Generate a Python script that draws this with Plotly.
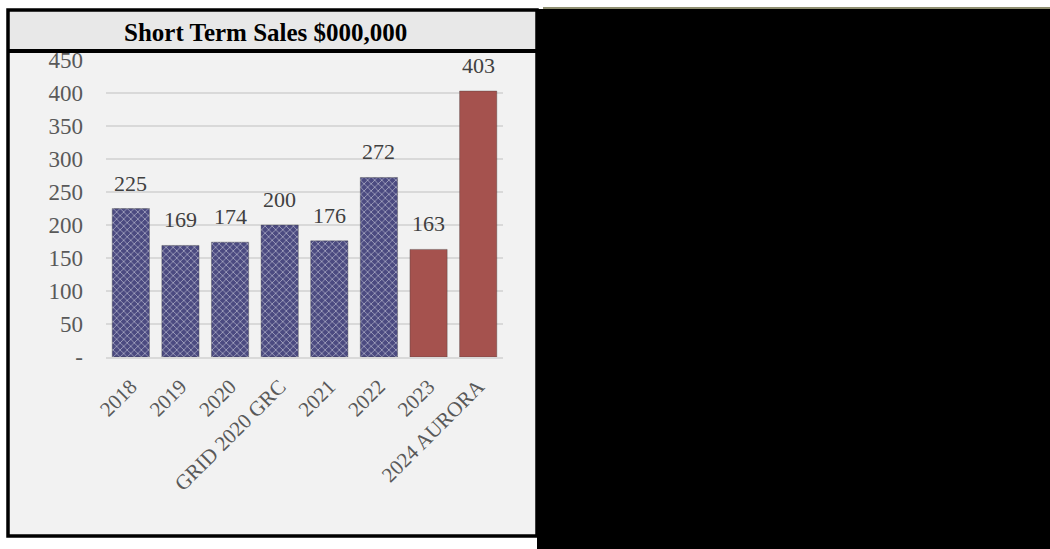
import plotly.graph_objects as go

categories = ["2018", "2019", "2020", "GRID 2020 GRC", "2021", "2022", "2023", "2024 AURORA"]
sales = [225, 169, 174, 200, 176, 272, 163, 403]
bar_colors = ["#4b4a80"] * 6 + ["#a5524e"] * 2
bar_patterns = ["x"] * 6 + [""] * 2
y_tickvals = [0, 50, 100, 150, 200, 250, 300, 350, 400, 450]
y_ticktext = ["-", "50", "100", "150", "200", "250", "300", "350", "400", "450"]
title_text = "Short Term Sales $000,000"

W, H = 1050, 549
def px(x):
    return x / W
def py(y):
    return 1 - y / H

SERIF = "Liberation Serif, Times New Roman, serif"

fig = go.Figure()
fig.add_trace(go.Bar(
    x=categories,
    y=sales,
    marker=dict(
        color=bar_colors,
        line=dict(color="rgba(60,60,60,0.35)", width=1),
        pattern=dict(shape=bar_patterns, fgcolor="#68689e",
                     size=5, solidity=0.3, fillmode="overlay"),
    ),
    hoverinfo="skip",
))

# value labels above bars (x given as category index on the category axis)
for i, v in enumerate(sales):
    fig.add_annotation(
        x=i, y=v, xref="x", yref="y", text=str(v), showarrow=False,
        xanchor="center", yanchor="bottom", yshift=11,
        font=dict(family=SERIF, size=22, color="#404040"),
    )

fig.add_annotation(
    text="<b>" + title_text + "</b>", xref="paper", yref="paper",
    x=px(265), y=py(33), xanchor="center", yanchor="middle", showarrow=False,
    font=dict(family=SERIF, size=25, color="#000000"),
)

shapes = [
    dict(type="rect", xref="paper", yref="paper", x0=px(8), x1=px(537), y0=py(536), y1=py(10),
         fillcolor="#f2f2f2", line=dict(width=0), layer="below"),
    dict(type="rect", xref="paper", yref="paper", x0=px(8), x1=px(537), y0=py(51), y1=py(10),
         fillcolor="#e8e8e8", line=dict(width=0), layer="below"),
    dict(type="line", xref="paper", yref="paper", x0=px(8), x1=px(537), y0=py(51), y1=py(51),
         line=dict(color="black", width=4), layer="above"),
    dict(type="rect", xref="paper", yref="paper", x0=px(8), x1=px(537), y0=py(536), y1=py(10),
         fillcolor="rgba(0,0,0,0)", line=dict(color="black", width=3.5), layer="above"),
    dict(type="rect", xref="paper", yref="paper", x0=px(537), x1=px(1050), y0=py(549), y1=py(9),
         fillcolor="black", line=dict(width=0), layer="above"),
    dict(type="line", xref="paper", yref="paper", x0=px(543), x1=px(1050), y0=py(8), y1=py(8),
         line=dict(color="#8e8e70", width=2), layer="above"),
]

fig.update_layout(
    width=W, height=H, autosize=False,
    margin=dict(l=0, r=0, t=0, b=0),
    paper_bgcolor="white",
    plot_bgcolor="rgba(0,0,0,0)",
    showlegend=False,
    bargap=0.25,
    shapes=shapes,
    font=dict(family=SERIF, color="#595959"),
    xaxis=dict(
        type="category",
        categoryorder="array", categoryarray=categories,
        range=[-0.5, len(categories) - 0.5],
        domain=[px(106), px(503)],
        tickangle=-45,
        tickfont=dict(family=SERIF, size=21, color="#595959"),
        showline=True, linecolor="#d9d9d9", linewidth=2,
        ticks="", ticklabelstandoff=7,
        showgrid=False, automargin=False,
    ),
    yaxis=dict(
        domain=[py(357), py(60)],
        range=[0, 450],
        tickvals=y_tickvals,
        ticktext=y_ticktext,
        tickfont=dict(family=SERIF, size=23, color="#595959"),
        showgrid=True, gridcolor="#d9d9d9", gridwidth=2,
        zeroline=False, automargin=False,
        ticks="", ticklabelstandoff=22,
    ),
)

fig.write_html("out.html", post_script="document.body.style.margin='0';document.body.style.padding='0';")
